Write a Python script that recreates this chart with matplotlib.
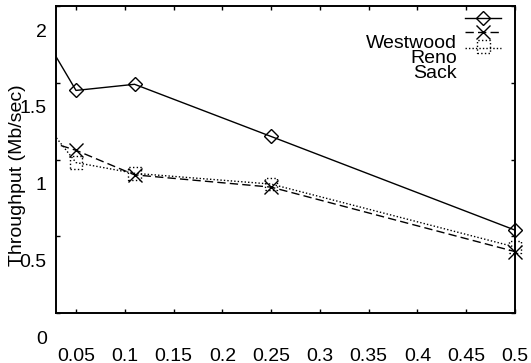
import matplotlib
matplotlib.use('Agg')
import matplotlib.pyplot as plt
from matplotlib.patches import Rectangle

plt.rcParams['font.family'] = ['Liberation Sans', 'DejaVu Sans']

# loss rate on x, throughput on y
loss = [0.01, 0.05, 0.11, 0.25, 0.5]
westwood = [2.05, 1.62, 1.66, 1.32, 0.71]
reno = [1.31, 1.23, 1.07, 0.99, 0.57]
sack = [1.47, 1.15, 1.08, 1.01, 0.60]

xticks = [0.05, 0.1, 0.15, 0.2, 0.25, 0.3, 0.35, 0.4, 0.45, 0.5]
xtick_labels = ['0.05', '0.1', '0.15', '0.2', '0.25', '0.3', '0.35', '0.4', '0.45', '0.5']
ylabel_values = [0, 0.5, 1, 1.5, 2]
ylabel_text = ['0', '0.5', '1', '1.5', '2']

W, H = 531, 363
fig = plt.figure(figsize=(W / 100, H / 100), dpi=100)
ax = fig.add_axes([56 / W, 1 - 313 / H, 459 / W, 307 / H])

ax.set_xlim(0.0295, 0.5)
ax.set_ylim(0.17, 2.17)

lw = 1.0
dashed = (0, (6, 3))
dotted = (0, (1, 1.5))

# lines are clipped at the frame, markers are not
ax.plot(loss, westwood, color='black', lw=lw)
ax.plot(loss, reno, color='black', lw=lw, linestyle=dashed)
ax.plot(loss, sack, color='black', lw=lw, linestyle=dotted)

ax.plot(loss[1:], westwood[1:], linestyle='none', marker='D', ms=6.8,
        mfc='none', mec='black', mew=1.0, clip_on=False)
ax.plot(loss[1:], reno[1:], linestyle='none', marker='x', ms=9.5,
        mec='black', mew=1.0, clip_on=False)
ax.scatter(loss[1:], sack[1:], marker='s', s=80, facecolors='none',
           edgecolors='black', linewidths=1.0, linestyles=':', clip_on=False,
           zorder=3)

for s in ax.spines.values():
    s.set_linewidth(1.4)

ax.set_xticks(xticks)
ax.set_xticklabels(xtick_labels)
ax.set_yticks([0.17, 0.67, 1.17, 1.67, 2.17])
ax.set_yticklabels([])
ax.tick_params(direction='in', length=3, width=1.0, top=True, right=True,
               labelsize=14, pad=25)

# y labels sit at their own values
ytr = ax.get_yaxis_transform()
for v, t in zip(ylabel_values, ylabel_text):
    ax.text(-0.02, v, t, transform=ytr, ha='right', va='center',
            fontsize=14, clip_on=False)

fig.text(18 / W, 1 - 175 / H, 'Throughput (Mb/sec)', rotation=90,
         ha='center', va='center', fontsize=14)

# key
def fx(px):
    return px / W

def fy(py):
    return 1 - py / H

key_rows = [
    (18, dict(linestyle='-'), dict(marker='D', ms=6.8, mfc='none')),
    (32, dict(linestyle=dashed), dict(marker='x', ms=9.5)),
]
for py, ls, mk in key_rows:
    fig.add_artist(plt.Line2D([fx(465), fx(501)], [fy(py), fy(py)],
                              color='black', lw=lw, **ls))
    fig.add_artist(plt.Line2D([fx(483)], [fy(py)], color='black', mew=1.0,
                              linestyle='none', **mk))
fig.add_artist(plt.Line2D([fx(465), fx(501)], [fy(48), fy(48)],
                          color='black', lw=lw, linestyle=dotted))
fig.add_artist(Rectangle((fx(477), fy(53)), fx(13), 13 / H, fill=False,
                         edgecolor='black', lw=1.0, linestyle=':',
                         transform=fig.transFigure))

for name, py in [('Westwood', 48), ('Reno', 63), ('Sack', 78)]:
    fig.text(fx(457), fy(py), name, ha='right', va='baseline', fontsize=14)

fig.savefig('out.png', dpi=100)
